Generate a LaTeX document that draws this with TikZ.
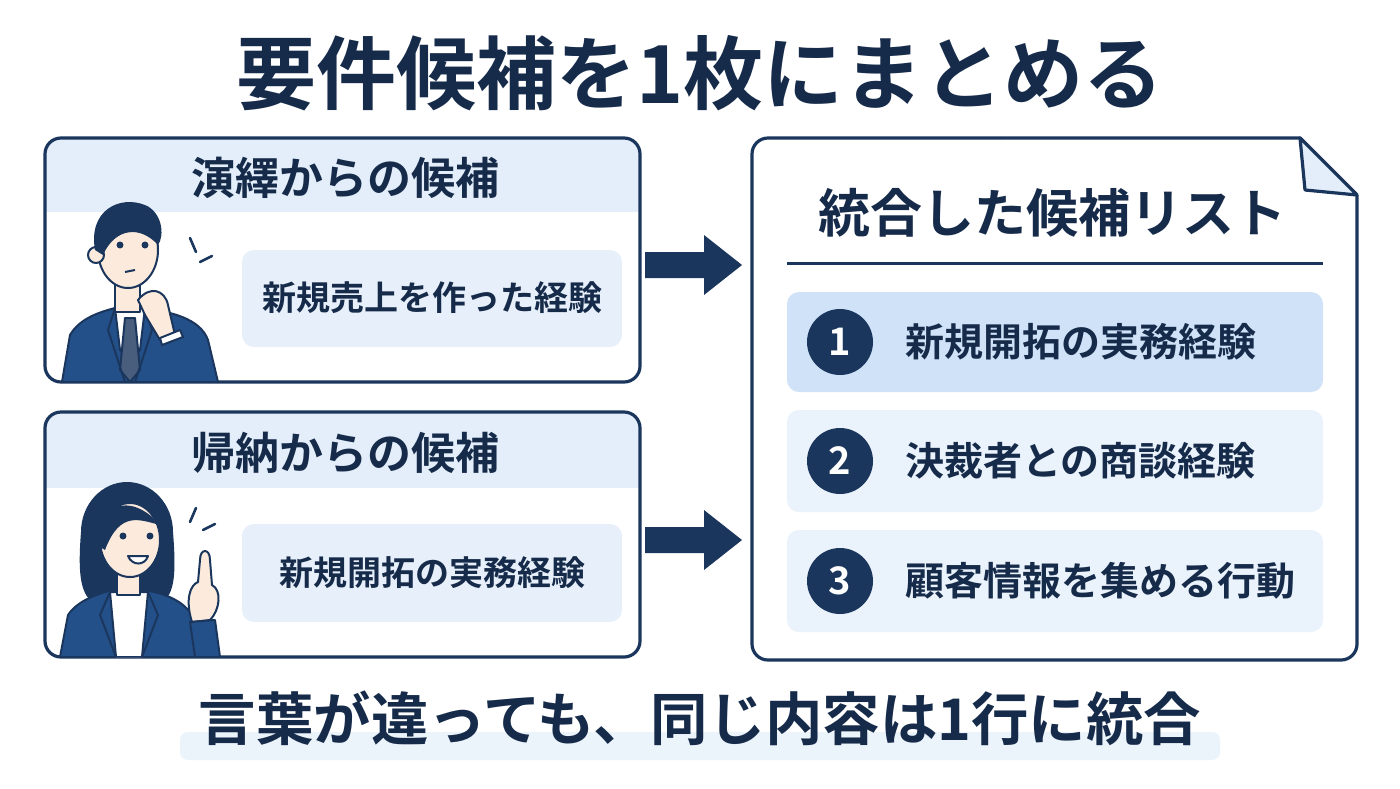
\documentclass[tikz,border=0pt]{standalone}
\usetikzlibrary{calc}
\usepackage{fontspec}
\newfontfamily\jp{Noto Sans CJK JP}[BoldFont={* Bold}]
\definecolor{navy}{HTML}{1B365D}
\definecolor{suit}{HTML}{24508A}
\definecolor{hdr}{HTML}{E3EEFA}
\definecolor{inner}{HTML}{E7F0FA}
\definecolor{hi}{HTML}{CFE2F8}
\definecolor{item}{HTML}{EAF2FB}
\definecolor{skin}{HTML}{FCEBDD}
\begin{document}
\begin{tikzpicture}[x=0.5pt,y=-0.5pt,
  box/.style={draw=navy,line width=1.6pt,rounded corners=8pt},
  inbox/.style={fill=inner,rounded corners=6pt},
  txt/.style={font=\jp\bfseries,text=navy!80!black},
  num/.style={circle,fill=navy,minimum size=33pt,inner sep=0pt,text=white,font=\jp\bfseries\fontsize{19}{19}\selectfont},
  ol/.style={draw=navy,line width=1pt,line join=round}]
\useasboundingbox (0,0) rectangle (1400,788);
\fill[white] (0,0) rectangle (1400,788);
\node[txt,font=\jp\bfseries\fontsize{40}{40}\selectfont] (title) at (700,73) {要件候補を1枚にまとめる};
% left boxes
\begin{scope}
\clip[rounded corners=8pt] (45,138) rectangle (640,382);
\fill[hdr] (45,138) rectangle (640,212);
\end{scope}
\draw[box] (45,138) rectangle (640,382);
\node[txt,font=\jp\bfseries\fontsize{22}{22}\selectfont] (h1) at (345,178) {演繹からの候補};
\fill[inbox] (242,250) rectangle (622,347);
\node[txt,font=\jp\bfseries\fontsize{17}{17}\selectfont] (i1) at (432,298) {新規売上を作った経験};
\begin{scope}
\clip[rounded corners=8pt] (45,412) rectangle (640,657);
\fill[hdr] (45,412) rectangle (640,488);
\end{scope}
\draw[box] (45,412) rectangle (640,657);
\node[txt,font=\jp\bfseries\fontsize{22}{22}\selectfont] (h2) at (345,453) {帰納からの候補};
\fill[inbox] (242,524) rectangle (622,622);
\node[txt,font=\jp\bfseries\fontsize{17}{17}\selectfont] (i2) at (432,573) {新規開拓の実務経験};
% man
\begin{scope}
\clip[rounded corners=8pt] (45,138) rectangle (640,382);
\filldraw[ol,fill=suit] (62,382) -- (70,335) .. controls (80,318) and (100,312) .. (115,308) -- (145,308) .. controls (170,312) and (200,318) .. (208,340) -- (218,382) -- cycle;
\filldraw[ol,fill=white] (115,308) -- (145,308) -- (140,350) -- (130,360) -- (120,350) -- cycle;
\filldraw[ol,fill=navy!80] (125,318) -- (135,318) -- (140,370) -- (130,382) -- (120,370) -- cycle;
\draw[ol] (115,308) -- (108,330) -- (125,382);
\draw[ol] (145,308) -- (152,330) -- (135,382);
\filldraw[ol,fill=skin] (115,280) rectangle (140,312);
\filldraw[ol,fill=skin] (128,250) ellipse (30 and 38);
\filldraw[ol,fill=skin] (96,255) circle (8);
\fill[navy] (95,250) .. controls (88,210) and (120,195) .. (145,205) .. controls (162,212) and (165,235) .. (158,245) .. controls (140,225) and (115,228) .. (103,255) -- cycle;
\fill[navy] (120,245) circle (3.5) (145,245) circle (3.5);
\draw[ol] (125,272) -- (135,270);
\filldraw[ol,fill=skin] (138,300) .. controls (150,285) and (165,290) .. (168,305) -- (175,335) -- (160,340) -- (145,315) -- cycle;
\draw[ol,fill=white] (160,338) -- (180,330) -- (183,337) -- (162,345) -- cycle;
\end{scope}
\draw[ol,line width=1.3pt,line cap=round] (190,238) -- (196,252) (200,262) -- (212,256);
% woman
\begin{scope}
\clip[rounded corners=8pt] (45,412) rectangle (640,657);
\fill[navy] (127,532) ellipse (46 and 50);
\fill[navy] (81,532) .. controls (78,570) and (80,590) .. (90,600) -- (165,600) .. controls (175,590) and (176,570) .. (173,532) -- cycle;
\filldraw[ol,fill=suit] (60,657) -- (68,615) .. controls (78,600) and (98,594) .. (112,590) -- (145,590) .. controls (165,594) and (185,600) .. (195,620) -- (200,657) -- cycle;
\filldraw[ol,fill=white] (110,592) -- (148,592) -- (142,657) -- (116,657) -- cycle;
\draw[ol] (110,592) -- (100,615) -- (116,657);
\draw[ol] (148,592) -- (158,615) -- (142,657);
\filldraw[ol,fill=skin] (117,565) rectangle (140,595);
\filldraw[ol,fill=skin] (130,540) ellipse (30 and 37);
\fill[navy] (97,545) .. controls (95,505) and (130,490) .. (160,525) .. controls (140,520) and (120,510) .. (105,550) -- cycle;
\fill[navy] (123,536) circle (3.5) (150,536) circle (3.5);
\filldraw[ol,fill=white] (128,556) .. controls (132,566) and (145,566) .. (148,556) -- cycle;
\filldraw[ol,fill=skin] (200,560) .. controls (200,548) and (210,548) .. (210,560) -- (212,585) .. controls (222,590) and (220,610) .. (210,620) -- (192,622) .. controls (185,600) and (190,585) .. (198,582) -- cycle;
\filldraw[ol,fill=suit] (190,622) -- (215,620) -- (220,657) -- (195,657) -- cycle;
\end{scope}
\draw[ol,line width=1.3pt,line cap=round] (196,508) -- (190,522) (203,530) -- (215,524);
% arrows
\coordinate (a1s) at (645,265); \coordinate (a1e) at (742,265);
\coordinate (a2s) at (645,540); \coordinate (a2e) at (742,540);
\foreach \s/\e in {a1s/a1e,a2s/a2e}{
  \fill[navy] ($(\s)+(0,-13)$) -- ($(\e)+(-38,-13)$) -- ($(\e)+(-38,-30)$) -- (\e) -- ($(\e)+(-38,30)$) -- ($(\e)+(-38,13)$) -- ($(\s)+(0,13)$) -- cycle;}
% right box
\draw[navy,line width=1.6pt,line join=round,rounded corners=8pt] (1000,138) -- (752,138) -- (752,660) -- (1357,660) -- (1357,195);
\draw[navy,line width=1.6pt,line join=round] (1000,138) -- (1300,138) -- (1357,195);
\filldraw[navy,line width=1.6pt,line join=round,fill=hdr] (1300,138) -- (1305,190) -- (1357,195) -- cycle;
\node[txt,font=\jp\bfseries\fontsize{26}{26}\selectfont] (rt) at (1052,213) {統合した候補リスト};
\draw[navy,line width=1.5pt] (787,263) -- (1323,263);
\fill[hi,rounded corners=6pt] (787,292) rectangle (1323,392);
\fill[item,rounded corners=6pt] (787,410) rectangle (1323,512);
\fill[item,rounded corners=6pt] (787,530) rectangle (1323,632);
\node[num] (n1) at (840,342) {1};
\node[num] (n2) at (840,461) {2};
\node[num] (n3) at (840,581) {3};
\foreach \y/\t in {342/新規開拓の実務経験,461/決裁者との商談経験,581/顧客情報を集める行動}
  \node[txt,anchor=west,font=\jp\bfseries\fontsize{19.5}{19.5}\selectfont] at (898,\y) {\t};
% bottom
\fill[hdr!70,rounded corners=4pt] (180,732) rectangle (1220,760);
\node[txt,font=\jp\bfseries\fontsize{28.7}{28.7}\selectfont] (bt) at (700,718) {言葉が違っても、同じ内容は1行に統合};
\end{tikzpicture}
\end{document}
